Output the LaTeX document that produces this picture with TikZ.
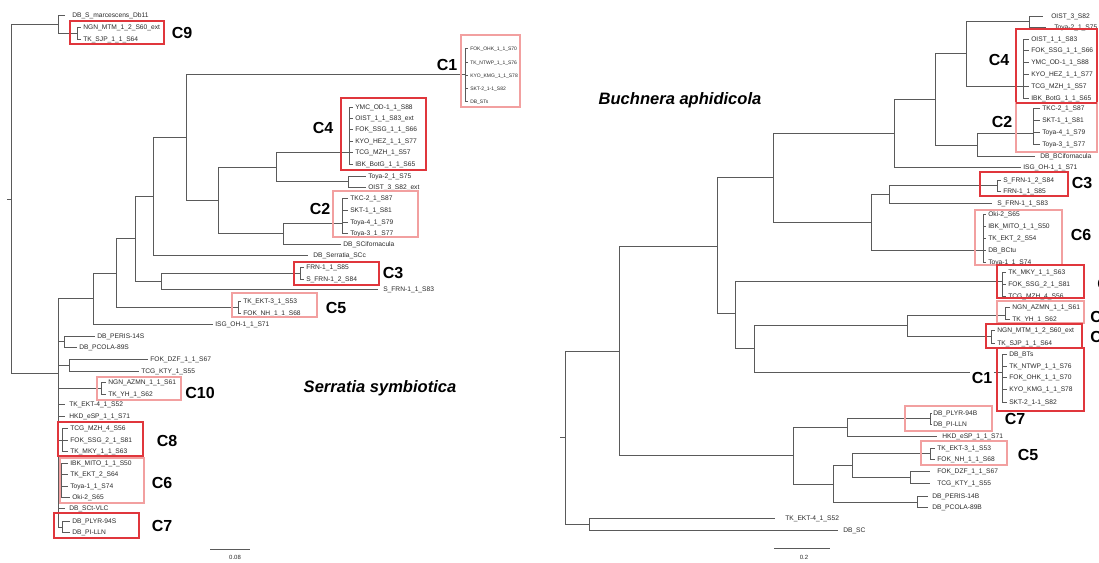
\documentclass[tikz,border=0pt]{standalone}
\usepackage{fontspec}
\setmainfont{Liberation Sans}
\definecolor{lg}{HTML}{5A5A5A}
\definecolor{tg}{HTML}{2A2A2A}
\definecolor{rd}{HTML}{E0363C}
\definecolor{lr}{HTML}{F2A0A0}
\tikzset{
 br/.style={draw=lg, line width=0.75pt},
 labfont/.style={font=\fontsize{5}{6}\selectfont},
 lab/.style={anchor=west, inner sep=0pt, text=tg, labfont, text height=3.7pt, text depth=0.3pt},
 clab/.style={inner sep=0pt, font=\fontsize{12}{14}\selectfont\bfseries},
 rbox/.style={draw=rd, line width=0.8pt},
 pbox/.style={draw=lr, line width=0.8pt},
 ttl/.style={inner sep=0pt, font=\fontsize{12.4}{15}\selectfont\bfseries\itshape},
 sbl/.style={inner sep=0pt, text=tg, font=\fontsize{4.5}{5}\selectfont},
}
\newcommand{\leafl}[6][1.5pt]{\node[lab] (#3) at (#4,#5) {#6}; \draw[br] (#2) |- ([xshift=-#1]#3.west);}
\begin{document}
\begin{tikzpicture}[x=0.75pt,y=-0.75pt]
\useasboundingbox (0,0) rectangle (1099,562);
\fill[white] (0,0) rectangle (1099,562);
\clip (0,0) rectangle (1099,562);

% ================= LEFT TREE (Serratia) =================
\coordinate (Lrt) at (7,199);
\coordinate (LR) at (11,199);
\draw[br] (Lrt) -- (LR);
\coordinate (LA) at (58,24);
\coordinate (LB) at (58,373);
\draw[br] (LR) |- (LA);
\draw[br] (LR) |- (LB);
\leafl[5pt]{LA}{ldbsm}{72}{15}{DB\_S\_marcescens\_Db11}
\coordinate (LC9) at (77,33); \draw[br] (LA) |- (LC9);
\leafl{LC9}{l9a}{83}{27}{NGN\_MTM\_1\_2\_S60\_ext}
\leafl{LC9}{l9b}{83}{39}{TK\_SJP\_1\_1\_S64}

\coordinate (LU) at (93,298); \draw[br] (LB) |- (LU);
\coordinate (LV) at (116,273); \draw[br] (LU) |- (LV);
\coordinate (LW) at (135,238); \draw[br] (LV) |- (LW);
\coordinate (LX) at (153,196); \draw[br] (LW) |- (LX);
\coordinate (LY) at (186,137); \draw[br] (LX) |- (LY);
\coordinate (LC1) at (465,74); \draw[br] (LY) |- (LC1);
\begin{scope}[labfont/.style={font=\fontsize{3.75}{4.5}\selectfont}]
\leafl{LC1}{l1a}{470}{48}{FOK\_OHK\_1\_1\_S70}
\leafl{LC1}{l1b}{470}{62}{TK\_NTWP\_1\_1\_S76}
\leafl{LC1}{l1c}{470}{75}{KYO\_KMG\_1\_1\_S78}
\leafl{LC1}{l1d}{470}{88}{SKT-2\_1-1\_S82}
\leafl{LC1}{l1e}{470}{101}{DB\_STs}
\end{scope}
\coordinate (LZ) at (218,200); \draw[br] (LY) |- (LZ);
\coordinate (LQ) at (276,167); \draw[br] (LZ) |- (LQ);
\coordinate (LC4) at (349,152); \draw[br] (LQ) |- (LC4);
\leafl{LC4}{l4a}{355}{107}{YMC\_OD-1\_1\_S88}
\leafl{LC4}{l4b}{355}{118}{OIST\_1\_1\_S83\_ext}
\leafl{LC4}{l4c}{355}{129}{FOK\_SSG\_1\_1\_S66}
\leafl{LC4}{l4d}{355}{141}{KYO\_HEZ\_1\_1\_S77}
\leafl{LC4}{l4e}{355}{152}{TCG\_MZH\_1\_S57}
\leafl{LC4}{l4f}{355}{164}{IBK\_BotG\_1\_1\_S65}
\coordinate (LP) at (348,181); \draw[br] (LQ) |- (LP);
\leafl{LP}{ltoya2}{368}{176}{Toya-2\_1\_S75}
\leafl{LP}{loist3}{368}{187}{OIST\_3\_S82\_ext}
\coordinate (LS) at (283,233); \draw[br] (LZ) |- (LS);
\coordinate (LC2) at (342,223); \draw[br] (LS) |- (LC2);
\leafl{LC2}{l2a}{350}{198}{TKC-2\_1\_S87}
\leafl{LC2}{l2b}{350}{210}{SKT-1\_1\_S81}
\leafl{LC2}{l2c}{350}{222}{Toya-4\_1\_S79}
\leafl{LC2}{l2d}{350}{233}{Toya-3\_1\_S77}
\leafl{LS}{lsci}{343}{244}{DB\_SCifornacula}
\leafl[4pt]{LX}{lscc}{313}{255}{DB\_Serratia\_SCc}
\coordinate (LT) at (161,281); \draw[br] (LW) |- (LT);
\coordinate (LC3) at (300,273); \draw[br] (LT) |- (LC3);
\leafl{LC3}{l3a}{306}{267}{FRN-1\_1\_S85}
\leafl{LC3}{l3b}{306}{279}{S\_FRN-1\_2\_S84}
\leafl[3.5pt]{LT}{lsfrn}{383}{289}{S\_FRN-1\_1\_S83}
\coordinate (LC5) at (238,307); \draw[br] (LV) |- (LC5);
\leafl{LC5}{l5a}{243}{301}{TK\_EKT-3\_1\_S53}
\leafl{LC5}{l5b}{243}{313}{FOK\_NH\_1\_1\_S68}
\leafl{LU}{lisg}{215}{324}{ISG\_OH-1\_1\_S71}

\coordinate (LPe) at (64,341); \draw[br] (LB) |- (LPe);
\leafl{LPe}{lperis}{97}{336}{DB\_PERIS-14S}
\leafl{LPe}{lpcola}{79}{347}{DB\_PCOLA-89S}
\coordinate (LFz) at (69,365); \draw[br] (LB) |- (LFz);
\leafl{LFz}{ldzf}{150}{359}{FOK\_DZF\_1\_1\_S67}
\leafl{LFz}{lkty}{141}{371}{TCG\_KTY\_1\_S55}
\coordinate (LC10) at (101,388); \draw[br] (LB) |- (LC10);
\leafl{LC10}{l10a}{108}{382}{NGN\_AZMN\_1\_1\_S61}
\leafl{LC10}{l10b}{108}{394}{TK\_YH\_1\_S62}
\leafl[3pt]{LB}{lekt4}{69}{404}{TK\_EKT-4\_1\_S52}
\leafl[3pt]{LB}{lhkd}{69}{416}{HKD\_eSP\_1\_1\_S71}
\coordinate (LC8) at (62,440); \draw[br] (LB) |- (LC8);
\leafl{LC8}{l8a}{70}{428}{TCG\_MZH\_4\_S56}
\leafl{LC8}{l8b}{70}{440}{FOK\_SSG\_2\_1\_S81}
\leafl{LC8}{l8c}{70}{451}{TK\_MKY\_1\_1\_S63}
\coordinate (LC6) at (61,480); \draw[br] (LB) |- (LC6);
\leafl{LC6}{l6a}{70}{463}{IBK\_MITO\_1\_1\_S50}
\leafl{LC6}{l6b}{70}{474}{TK\_EKT\_2\_S64}
\leafl{LC6}{l6c}{70}{486}{Toya-1\_1\_S74}
\leafl{LC6}{l6d}{72}{497}{Oki-2\_S65}
\leafl[3pt]{LB}{lsct}{69}{508}{DB\_SCt-VLC}
\coordinate (LC7) at (62,527); \draw[br] (LB) |- (LC7);
\leafl{LC7}{l7a}{72}{521}{DB\_PLYR-94S}
\leafl{LC7}{l7b}{72}{532}{DB\_PI-LLN}

% left boxes
\draw[rbox] (70,21) rectangle (164,44);
\draw[pbox] (461,35) rectangle (520,107);
\draw[rbox] (341,98) rectangle (426,170);
\draw[pbox] (333,191) rectangle (418,237);
\draw[rbox] (294,262) rectangle (379,285);
\draw[pbox] (232,293) rectangle (317,317);
\draw[pbox] (97,377) rectangle (181,400);
\draw[rbox] (58,422) rectangle (143,456);
\draw[pbox] (60,458) rectangle (144,503);
\draw[rbox] (54,513) rectangle (139,538);
% left cluster labels
\node[clab] (kL9) at (182,33) {C9};
\node[clab] (kL1) at (447,65) {C1};
\node[clab] (kL4) at (323,128) {C4};
\node[clab] (kL2) at (320,209) {C2};
\node[clab] (kL3) at (393,273) {C3};
\node[clab] (kL5) at (336,308) {C5};
\node[clab] (kL10) at (200,393) {C10};
\node[clab] (kL8) at (167,441) {C8};
\node[clab] (kL6) at (162,483) {C6};
\node[clab] (kL7) at (162,526) {C7};
\node[ttl] (tS) at (380,388) {Serratia symbiotica};
% left scale bar
\coordinate (sL1) at (210,549); \coordinate (sL2) at (250,549);
\draw[br] (sL1) -- (sL2);
\node[sbl] (sLt) at (235,557) {0.08};

% ================= RIGHT TREE (Buchnera) =================
\coordinate (Rrt) at (560,437);
\coordinate (RR) at (565,437);
\draw[br] (Rrt) -- (RR);
\coordinate (Ra) at (619,351); \coordinate (Rb) at (589,524);
\draw[br] (RR) |- (Ra); \draw[br] (RR) |- (Rb);
\leafl[7.5pt]{Rb}{rekt4}{785}{518}{TK\_EKT-4\_1\_S52}
\leafl[3.5pt]{Rb}{rdbsc}{843}{530}{DB\_SC}
\coordinate (Rc) at (717,246); \coordinate (Rd) at (793,455);
\draw[br] (Ra) |- (Rc); \draw[br] (Ra) |- (Rd);
\coordinate (Re) at (773,177); \coordinate (Rf) at (735,313);
\draw[br] (Rc) |- (Re); \draw[br] (Rc) |- (Rf);
\coordinate (Rg) at (894,133); \coordinate (Rh) at (871,222);
\draw[br] (Re) |- (Rg); \draw[br] (Re) |- (Rh);
\coordinate (Ri) at (935,99); \draw[br] (Rg) |- (Ri);
\leafl{Rg}{risg}{1023}{167}{ISG\_OH-1\_1\_S71}
\coordinate (Rj) at (966,53); \draw[br] (Ri) |- (Rj);
\coordinate (Rk) at (977,145); \draw[br] (Ri) |- (Rk);
\coordinate (Rl) at (1029,21); \draw[br] (Rj) |- (Rl);
\leafl[6pt]{Rl}{roist3}{1051}{16}{OIST\_3\_S82}
\leafl[6pt]{Rl}{rtoya2}{1054}{27}{Toya-2\_1\_S75}
\coordinate (RC4) at (1023,86); \draw[br] (Rj) |- (RC4);
\leafl{RC4}{r4a}{1031}{39}{OIST\_1\_1\_S83}
\leafl{RC4}{r4b}{1031}{50}{FOK\_SSG\_1\_1\_S66}
\leafl{RC4}{r4c}{1031}{62}{YMC\_OD-1\_1\_S88}
\leafl{RC4}{r4d}{1031}{74}{KYO\_HEZ\_1\_1\_S77}
\leafl{RC4}{r4e}{1031}{86}{TCG\_MZH\_1\_S57}
\leafl{RC4}{r4f}{1031}{98}{IBK\_BotG\_1\_1\_S65}
\coordinate (RC2) at (1033,133); \draw[br] (Rk) |- (RC2);
\leafl{RC2}{r2a}{1042}{108}{TKC-2\_1\_S87}
\leafl{RC2}{r2b}{1042}{120}{SKT-1\_1\_S81}
\leafl{RC2}{r2c}{1042}{132}{Toya-4\_1\_S79}
\leafl{RC2}{r2d}{1042}{144}{Toya-3\_1\_S77}
\leafl[4pt]{Rk}{rbci}{1040}{156}{DB\_BCifornacula}
\coordinate (Rm) at (889,194); \draw[br] (Rh) |- (Rm);
\coordinate (RC6) at (983,250); \draw[br] (Rh) |- (RC6);
\coordinate (RC3) at (997,185); \draw[br] (Rm) |- (RC3);
\leafl{RC3}{r3a}{1003}{180}{S\_FRN-1\_2\_S84}
\leafl{RC3}{r3b}{1003}{191}{FRN-1\_1\_S85}
\leafl[4pt]{Rm}{rsfrn}{997}{203}{S\_FRN-1\_1\_S83}
\leafl{RC6}{r6a}{988}{214}{Oki-2\_S65}
\leafl{RC6}{r6b}{988}{226}{IBK\_MITO\_1\_1\_S50}
\leafl{RC6}{r6c}{988}{238}{TK\_EKT\_2\_S54}
\leafl{RC6}{r6d}{988}{250}{DB\_BCtu}
\leafl{RC6}{r6e}{988}{262}{Toya-1\_1\_S74}
\coordinate (RC8) at (1002,281); \draw[br] (Rf) |- (RC8);
\leafl{RC8}{r8a}{1008}{272}{TK\_MKY\_1\_1\_S63}
\leafl{RC8}{r8b}{1008}{284}{FOK\_SSG\_2\_1\_S81}
\leafl{RC8}{r8c}{1008}{296}{TCG\_MZH\_4\_S56}
\coordinate (Rn) at (754,348); \draw[br] (Rf) |- (Rn);
\coordinate (Ro) at (907,325); \draw[br] (Rn) |- (Ro);
\coordinate (RC1) at (1002,372); \draw[br] (Rn) |- (RC1);
\coordinate (RC10) at (1005,315); \draw[br] (Ro) |- (RC10);
\leafl{RC10}{r10a}{1012}{307}{NGN\_AZMN\_1\_1\_S61}
\leafl{RC10}{r10b}{1012}{319}{TK\_YH\_1\_S62}
\coordinate (RC9) at (991,336); \draw[br] (Ro) |- (RC9);
\leafl{RC9}{r9a}{997}{330}{NGN\_MTM\_1\_2\_S60\_ext}
\leafl{RC9}{r9b}{997}{343}{TK\_SJP\_1\_1\_S64}
\leafl{RC1}{r1a}{1009}{354}{DB\_BTs}
\leafl{RC1}{r1b}{1009}{366}{TK\_NTWP\_1\_1\_S76}
\leafl{RC1}{r1c}{1009}{377}{FOK\_OHK\_1\_1\_S70}
\leafl{RC1}{r1d}{1009}{389}{KYO\_KMG\_1\_1\_S78}
\leafl{RC1}{r1e}{1009}{402}{SKT-2\_1-1\_S82}
\coordinate (Rp) at (847,427); \coordinate (Rq) at (833,484);
\draw[br] (Rd) |- (Rp); \draw[br] (Rd) |- (Rq);
\coordinate (RC7) at (930,418); \draw[br] (Rp) |- (RC7);
\leafl[0.8pt]{RC7}{r7a}{933}{413}{DB\_PLYR-94B}
\leafl[0.8pt]{RC7}{r7b}{933}{424}{DB\_PI-LLN}
\leafl[3.5pt]{Rp}{rhkd}{942}{436}{HKD\_eSP\_1\_1\_S71}
\coordinate (Rr) at (852,465); \coordinate (Rs) at (917,502);
\draw[br] (Rq) |- (Rr); \draw[br] (Rq) |- (Rs);
\coordinate (RC5) at (930,453); \draw[br] (Rr) |- (RC5);
\leafl{RC5}{r5a}{937}{448}{TK\_EKT-3\_1\_S53}
\leafl{RC5}{r5b}{937}{459}{FOK\_NH\_1\_1\_S68}
\coordinate (Rt) at (910,477); \draw[br] (Rr) |- (Rt);
\leafl[5pt]{Rt}{rdzf}{937}{471}{FOK\_DZF\_1\_1\_S67}
\leafl[5pt]{Rt}{rkty}{937}{483}{TCG\_KTY\_1\_S55}
\leafl[3pt]{Rs}{rperis}{932}{496}{DB\_PERIS-14B}
\leafl[3pt]{Rs}{rpcola}{932}{507}{DB\_PCOLA-89B}

% right boxes
\draw[rbox] (1016,29) rectangle (1097,103);
\draw[pbox] (1016,103) rectangle (1097,152);
\draw[rbox] (1016,103) -- (1097,103);
\draw[rbox] (980,172) rectangle (1068,196);
\draw[pbox] (975,210) rectangle (1062,265);
\draw[rbox] (997,265) rectangle (1084,298);
\draw[pbox] (997,301) rectangle (1084,323);
\draw[rbox] (986,324) rectangle (1082,348);
\draw[rbox] (997,348) rectangle (1084,411);
\draw[pbox] (905,406) rectangle (992,431);
\draw[pbox] (921,441) rectangle (1007,465);
% right cluster labels
\node[clab] (kR4) at (999,60) {C4};
\node[clab] (kR2) at (1002,122) {C2};
\node[clab] (kR3) at (1082,183) {C3};
\node[clab] (kR6) at (1081,235) {C6};
\node[clab, anchor=west] (kR8) at (1097,284) {C8};
\node[clab, anchor=west] (kR10) at (1090,317) {C10};
\node[clab, anchor=west] (kR9) at (1090,337) {C9};
\node[clab, fill=white, inner sep=1pt] (kR1) at (982,378) {C1};
\node[clab] (kR7) at (1015,419) {C7};
\node[clab] (kR5) at (1028,455) {C5};
\node[ttl] (tB) at (680,100) {Buchnera aphidicola};
% right scale bar
\coordinate (sR1) at (774,548); \coordinate (sR2) at (830,548);
\draw[br] (sR1) -- (sR2);
\node[sbl] (sRt) at (804,557) {0.2};
\end{tikzpicture}
\end{document}
